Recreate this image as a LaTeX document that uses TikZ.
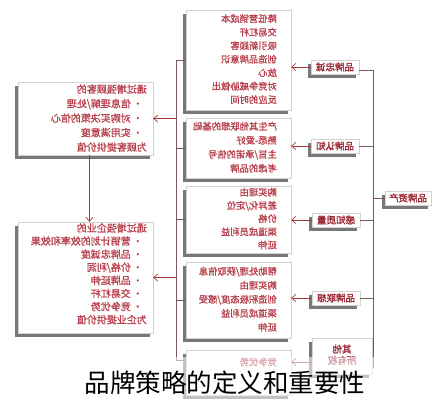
\documentclass[tikz,border=0pt]{standalone}
\usepackage{fontspec}
\usepackage{graphicx}
\newfontfamily\cjk{Noto Sans CJK SC}
\newfontfamily\cjkb[FakeBold=1.2]{Noto Sans CJK SC}
\newfontfamily\cjkbb[FakeBold=2]{Noto Sans CJK SC}
\usetikzlibrary{shadows,arrows.meta}
\definecolor{txtred}{HTML}{B8404C}
\definecolor{lblred}{HTML}{9C2A36}
\definecolor{arrred}{HTML}{A8383C}
\definecolor{brk}{HTML}{7A5A5A}
\newcommand{\mirtext}[3]{\reflectbox{\fontsize{#1}{#2}\selectfont\cjkb\begin{tabular}{@{}l@{}}#3\end{tabular}}}
\newcommand{\bul}{\hspace{4pt}•\hspace{2pt}}
\begin{document}
\begin{tikzpicture}[x=1pt,y=-1pt,
  boxst/.style={draw=gray!35, fill=white, line width=0.4pt,
    drop shadow={shadow xshift=-3.5pt, shadow yshift=-3.5pt, opacity=0.7, fill=black!75},
    inner sep=0pt},
  txt/.style={text=txtred, inner sep=0pt},
  lbl/.style={draw=gray!35, fill=white, text=lblred, inner sep=1pt,
    minimum width=48pt, minimum height=14pt,
    drop shadow={shadow xshift=-3.5pt, shadow yshift=-3.5pt, opacity=0.7, fill=black!75},
    font=\cjkbb\fontsize{9.5}{11}\selectfont},
  arr/.style={draw=arrred, line width=0.7pt, -{Straight Barb[length=4pt,width=7pt]}},
  brline/.style={draw=brk, line width=0.5pt}
]
\path[use as bounding box, fill=white] (0,0) rectangle (445,400);

% right column boxes
\node[boxst, minimum width=105pt, minimum height=100pt] (b1) at (238.5,60) {};
\node[boxst, minimum width=105pt, minimum height=60pt] (b2) at (238.5,148) {};
\node[boxst, minimum width=105pt, minimum height=67pt] (b3) at (238.5,219.5) {};
\node[boxst, minimum width=105pt, minimum height=76pt] (b4) at (238.5,300) {};
\node[boxst, minimum width=105pt, minimum height=45pt] (b5) at (238.5,373) {};

\node[txt, anchor=east] (t1) at (277,60) {\mirtext{9.3}{13.5}{降低营销成本\\交易杠杆\\吸引新顾客\\创造品牌意识\\放心\\对竞争威胁做出\\反应的时间}};
\node[txt, anchor=east] (t2) at (277,148) {\mirtext{9.3}{14}{产生其他联想的基础\\熟悉-爱好\\主旨/承诺的信号\\考虑的品牌}};
\node[txt, anchor=east] (t3) at (277,219.5) {\mirtext{9.3}{13.2}{购买理由\\差异化/定位\\价格\\渠道成员利益\\延伸}};
\node[txt, anchor=east] (t4) at (277,300) {\mirtext{9.3}{14}{帮助处理/获取信息\\购买理由\\创造积极态度/感受\\渠道成员利益\\延伸}};
\node[txt, anchor=east] (t5) at (277,363) {\mirtext{9.3}{13}{竞争优势}};

% left value boxes
\node[boxst, minimum width=135pt, minimum height=73pt] (l1) at (85.5,118.5) {};
\node[boxst, minimum width=135pt, minimum height=111pt] (l2) at (85.5,277.5) {};
\node[txt, anchor=east] (lt1) at (147,119) {\mirtext{10}{14.5}{通过增强顾客的\\\bul 信息理解/处理\\\bul 对购买决策的信心\\\bul 实用满意度\\为顾客提供价值}};
\node[txt, anchor=east] (lt2) at (147,275) {\mirtext{10}{13.1}{通过增强企业的\\\bul 营销计划的效率和效果\\\bul 品牌忠诚度\\\bul 价格/利润\\\bul 品牌延伸\\\bul 交易杠杆\\\bul 竞争优势\\为企业提供价值}};

% labels
\node[lbl] (lb1) at (335,67) {\reflectbox{品牌忠诚}};
\node[lbl] (lb2) at (335,146) {\reflectbox{品牌认知}};
\node[lbl] (lb3) at (336,220) {\reflectbox{感知质量}};
\node[lbl] (lb4) at (336,298) {\reflectbox{品牌联想}};
\node[lbl, minimum width=60pt, minimum height=36pt] (lb5) at (342,356) {\reflectbox{\begin{tabular}{@{}c@{}}其他\\所有权\end{tabular}}};
\node[lbl, minimum width=46pt] (root) at (408,198) {\reflectbox{品牌资产}};

% right bracket
\coordinate (rt) at (373,70);
\coordinate (rb) at (373,368);
\draw[brline] ([yshift=-3pt]lb1.east) -- (rt) -- (rb);
\draw[brline] (lb2.east) -- (lb2.east -| rt);
\draw[brline] (lb3.east) -- (lb3.east -| rt);
\draw[brline] (lb4.east) -- (lb4.east -| rt);
\draw[brline] (root.west) -- (root.west -| rt);

% arrows label -> box
\draw[arr] (lb1.west) -- (lb1.west -| b1.east);
\draw[arr] (lb2.west) -- (lb2.west -| b2.east);
\draw[arr] (lb3.west) -- (lb3.west -| b3.east);
\draw[arr] (lb4.west) -- (lb4.west -| b4.east);
\draw[arr] ([yshift=-6pt]lb5.west) -- ([yshift=-6pt]lb5.west -| b5.east);

% left bracket
\coordinate (lt) at (176,60);
\coordinate (lbot) at (176,360);
\draw[brline] (b1.west) -- (lt) -- (lbot) -- (lbot -| b5.west);
\draw[brline] (b2.west) -- (b2.west -| lt);
\draw[brline] (b3.west) -- (b3.west -| lt);
\draw[brline] (b4.west) -- (b4.west -| lt);
\draw[arr] (lt |- l1.east) -- (l1.east);
\draw[arr] (lt |- l2.east) -- (l2.east);

% vertical arrow between value boxes
\draw[arr] ([xshift=4pt]l1.south) -- ([xshift=4pt]l2.north);

% fading band and title
\fill[white, opacity=0.55] (176,357) rectangle (380,400);
\node[inner sep=0pt, font=\cjk\fontsize{25.5}{26}\selectfont] (title) at (225,383) {品牌策略的定义和重要性};
\end{tikzpicture}
\end{document}
